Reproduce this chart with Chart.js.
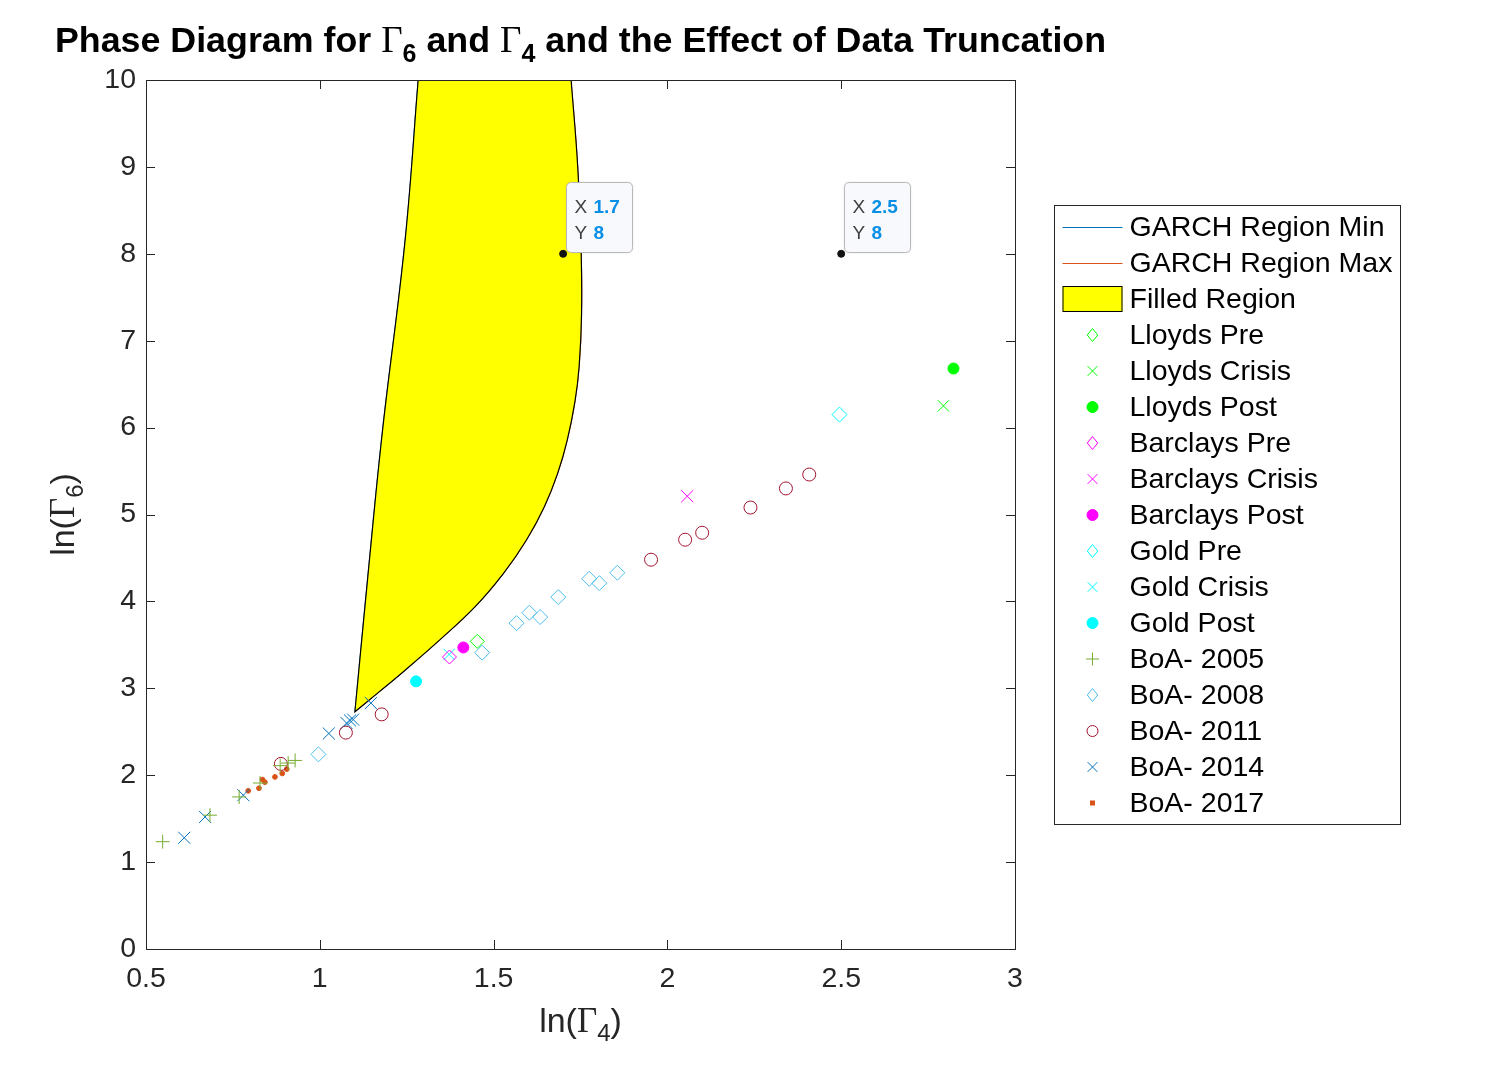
<!DOCTYPE html>
<html>
<head>
<meta charset="utf-8">
<script src="https://cdn.jsdelivr.net/npm/chart.js"></script>
<style>
    html, body { margin: 0; padding: 0; background: #fff; }
    canvas { display: block; }
</style>
</head>
<body>
<canvas id="phaseChart" width="1506" height="1066"></canvas>
<script>
    // 축 눈금
    const xTicks = [0.5, 1, 1.5, 2, 2.5, 3];
    const yTicks = [0, 1, 2, 3, 4, 5, 6, 7, 8, 9, 10];

    // GARCH 영역 경계 (ln Γ4, ln Γ6)
    const regionMinG4 = [1.101, 1.139, 1.180, 1.245, 1.283];
    const regionMinG6 = [2.73, 4.32, 5.95, 8.14, 10.0];
    const regionMaxG4 = [1.101, 1.168, 1.243, 1.346, 1.447, 1.528, 1.595, 1.646, 1.684, 1.712, 1.734, 1.746, 1.753, 1.752, 1.742, 1.723];
    const regionMaxG6 = [2.73, 2.95, 3.20, 3.56, 3.94, 4.32, 4.71, 5.09, 5.47, 5.86, 6.30, 6.70, 7.30, 8.0, 9.0, 10.0];

    // 관측값 [ln Γ4, ln Γ6]
    const lloydsPre = [[1.453, 3.54]];
    const lloydsCrisis = [[2.794, 6.25]];
    const lloydsPost = [[2.823, 6.68]];
    const barclaysPre = [[1.373, 3.36]];
    const barclaysCrisis = [[2.057, 5.21]];
    const barclaysPost = [[1.413, 3.47]];
    const goldPre = [[2.495, 6.15]];
    const goldCrisis = [[1.372, 3.39]];
    const goldPost = [[1.277, 3.08]];
    const boa2005 = [[0.548, 1.235], [0.684, 1.54], [0.768, 1.75], [0.828, 1.91], [0.886, 2.11], [0.909, 2.14], [0.929, 2.17]];
    const boa2008 = [[0.996, 2.24], [1.467, 3.41], [1.566, 3.75], [1.603, 3.87], [1.634, 3.82], [1.686, 4.05], [1.775, 4.26], [1.804, 4.21], [1.856, 4.33]];
    const boa2011 = [[0.888, 2.13], [1.075, 2.49], [1.178, 2.70], [1.953, 4.48], [2.051, 4.71], [2.100, 4.79], [2.239, 5.08], [2.341, 5.30], [2.408, 5.46]];
    const boa2014 = [[0.610, 1.28], [0.670, 1.52], [0.780, 1.77], [1.026, 2.48], [1.077, 2.60], [1.087, 2.63], [1.096, 2.64], [1.147, 2.83]];
    const boa2017 = [[0.794, 1.82], [0.825, 1.85], [0.835, 1.95], [0.842, 1.92], [0.871, 1.98], [0.892, 2.02], [0.905, 2.07]];

    // 데이터팁
    const datatips = [[1.7, 8], [2.5, 8]];

    const SANS = '"Liberation Sans", Arial, Helvetica, sans-serif';
    const SERIF = '"Liberation Serif", "Times New Roman", serif';
    const AXIS_COLOR = '#262626';

    const toPts = (xs, ys) => xs.map((x, i) => ({ x: x, y: ys[i] }));
    const pairs = arr => arr.map(p => ({ x: p[0], y: p[1] }));

    // 채움 영역: 위쪽 바깥(차트 밖)으로 경계를 연장해서 닫음
    function extendUp(xs, ys, yTo) {
        const n = xs.length;
        const k = (xs[n - 1] - xs[n - 2]) / (ys[n - 1] - ys[n - 2]);
        return { x: xs[n - 1] + k * (yTo - ys[n - 1]), y: yTo };
    }
    const yOut = yTicks[yTicks.length - 1] + 1;
    const regionPoly = [{ x: xTicks[0], y: yOut }, extendUp(regionMinG4, regionMinG6, yOut)]
        .concat(toPts(regionMinG4, regionMinG6).reverse())
        .concat(toPts(regionMaxG4, regionMaxG6))
        .concat([extendUp(regionMaxG4, regionMaxG6, yOut), { x: xTicks[xTicks.length - 1], y: yOut }]);

    function marker(label, data, style, color, radius, filled) {
        return {
            label: label, data: pairs(data), kind: 'marker',
            pointStyle: style, pointRadius: radius, pointHoverRadius: radius,
            pointBorderColor: color, pointBackgroundColor: filled ? color : 'rgba(0,0,0,0)',
            pointBorderWidth: 1, showLine: false, order: 1
        };
    }

    const datasets = [
        { label: 'GARCH Region Min', kind: 'line', data: toPts(regionMinG4, regionMinG6), showLine: true,
          borderColor: '#0072BD', borderWidth: 1, pointRadius: 0, tension: 0.4, fill: false, order: 3 },
        { label: 'GARCH Region Max', kind: 'line', data: toPts(regionMaxG4, regionMaxG6), showLine: true,
          borderColor: '#D95319', borderWidth: 1, pointRadius: 0, tension: 0.4, fill: false, order: 3 },
        { label: 'Filled Region', kind: 'patch', data: regionPoly, showLine: true, fill: 'shape',
          backgroundColor: '#FFFF00', borderColor: '#000000', borderWidth: 1.2, pointRadius: 0, tension: 0.4, order: 2 },
        marker('Lloyds Pre', lloydsPre, 'rectRot', '#00FF00', 7, false),
        marker('Lloyds Crisis', lloydsCrisis, 'crossRot', '#00FF00', 8, false),
        marker('Lloyds Post', lloydsPost, 'circle', '#00FF00', 5.5, true),
        marker('Barclays Pre', barclaysPre, 'rectRot', '#FF00FF', 7, false),
        marker('Barclays Crisis', barclaysCrisis, 'crossRot', '#FF00FF', 8.5, false),
        marker('Barclays Post', barclaysPost, 'circle', '#FF00FF', 5.5, true),
        marker('Gold Pre', goldPre, 'rectRot', '#00FFFF', 7.5, false),
        marker('Gold Crisis', goldCrisis, 'crossRot', '#00FFFF', 8, false),
        marker('Gold Post', goldPost, 'circle', '#00FFFF', 5.5, true),
        marker('BoA- 2005', boa2005, 'cross', '#77AC30', 7, false),
        marker('BoA- 2008', boa2008, 'rectRot', '#4DBEEE', 7.5, false),
        marker('BoA- 2011', boa2011, 'circle', '#A2142F', 6.5, false),
        marker('BoA- 2014', boa2014, 'crossRot', '#0072BD', 8.5, false),
        marker('BoA- 2017', boa2017, 'circle', '#D95319', 2.4, true),
        { label: '', kind: 'tip', data: pairs(datatips), showLine: false, pointStyle: 'circle',
          pointRadius: 3.5, pointBackgroundColor: '#111', pointBorderColor: '#111', pointBorderWidth: 1, order: 0 }
    ];

    // 굵은 글씨 + 아래첨자 텍스트
    function drawRich(ctx, parts, cx, baseY) {
        ctx.save();
        let total = 0;
        parts.forEach(p => { ctx.font = p.f; p.w = ctx.measureText(p.t).width; total += p.w; });
        let x = cx - total / 2;
        ctx.textBaseline = 'alphabetic';
        ctx.textAlign = 'left';
        parts.forEach(p => {
            ctx.font = p.f;
            ctx.fillStyle = p.c || '#000';
            ctx.fillText(p.t, x, baseY + (p.dy || 0));
            x += p.w;
        });
        ctx.restore();
    }

    const titleBold = `bold 35.8px ${SANS}`;
    const titleParts = [
        { t: 'Phase Diagram for ', f: titleBold },
        { t: 'Γ', f: `37px ${SERIF}` },
        { t: '6', f: `bold 25px ${SANS}`, dy: 10 },
        { t: ' and ', f: titleBold },
        { t: 'Γ', f: `37px ${SERIF}` },
        { t: '4', f: `bold 25px ${SANS}`, dy: 10 },
        { t: ' and the Effect of Data Truncation', f: titleBold }
    ];
    const xLabelParts = [
        { t: 'ln(', f: `34px ${SANS}`, c: AXIS_COLOR },
        { t: 'Γ', f: `35px ${SERIF}`, c: AXIS_COLOR },
        { t: '4', f: `24px ${SANS}`, dy: 9, c: AXIS_COLOR },
        { t: ')', f: `34px ${SANS}`, c: AXIS_COLOR }
    ];
    const yLabelParts = [
        { t: 'ln(', f: `34px ${SANS}`, c: AXIS_COLOR },
        { t: 'Γ', f: `35px ${SERIF}`, c: AXIS_COLOR },
        { t: '6', f: `24px ${SANS}`, dy: 9, c: AXIS_COLOR },
        { t: ')', f: `34px ${SANS}`, c: AXIS_COLOR }
    ];

    const labelPlugin = {
        id: 'richLabels',
        afterDraw(chart) {
            const { ctx, chartArea: a } = chart;
            const cx = (a.left + a.right) / 2;
            drawRich(ctx, titleParts, cx, 52);
            drawRich(ctx, xLabelParts, cx, a.bottom + 83);
            ctx.save();
            ctx.translate(a.left - 72, (a.top + a.bottom) / 2);
            ctx.rotate(-Math.PI / 2);
            drawRich(ctx, yLabelParts, 0, 0);
            ctx.restore();
        }
    };

    // MATLAB 식 안쪽 눈금 + 테두리
    const axesPlugin = {
        id: 'boxAxes',
        beforeDatasetsDraw(chart) {
            const { ctx, chartArea: a, scales } = chart;
            const len = 9;
            ctx.save();
            ctx.strokeStyle = AXIS_COLOR;
            ctx.lineWidth = 1;
            ctx.beginPath();
            scales.x.ticks.forEach(t => {
                const px = Math.round(scales.x.getPixelForValue(t.value)) + 0.5;
                ctx.moveTo(px, a.bottom); ctx.lineTo(px, a.bottom - len);
                ctx.moveTo(px, a.top); ctx.lineTo(px, a.top + len);
            });
            scales.y.ticks.forEach(t => {
                const py = Math.round(scales.y.getPixelForValue(t.value)) + 0.5;
                ctx.moveTo(a.left, py); ctx.lineTo(a.left + len, py);
                ctx.moveTo(a.right, py); ctx.lineTo(a.right - len, py);
            });
            ctx.stroke();
            ctx.restore();
        },
        afterDatasetsDraw(chart) {
            const { ctx, chartArea: a } = chart;
            ctx.save();
            ctx.strokeStyle = AXIS_COLOR;
            ctx.lineWidth = 1;
            ctx.strokeRect(Math.round(a.left) + 0.5, Math.round(a.top) + 0.5,
                Math.round(a.right - a.left), Math.round(a.bottom - a.top));
            ctx.restore();
        }
    };

    function roundRectPath(ctx, x, y, w, h, r) {
        ctx.beginPath();
        ctx.moveTo(x + r, y);
        ctx.lineTo(x + w - r, y); ctx.quadraticCurveTo(x + w, y, x + w, y + r);
        ctx.lineTo(x + w, y + h - r); ctx.quadraticCurveTo(x + w, y + h, x + w - r, y + h);
        ctx.lineTo(x + r, y + h); ctx.quadraticCurveTo(x, y + h, x, y + h - r);
        ctx.lineTo(x, y + r); ctx.quadraticCurveTo(x, y, x + r, y);
        ctx.closePath();
    }

    const datatipPlugin = {
        id: 'datatips',
        afterDatasetsDraw(chart) {
            const { ctx } = chart;
            const idx = chart.data.datasets.findIndex(d => d.kind === 'tip');
            const meta = chart.getDatasetMeta(idx);
            meta.data.forEach((el, i) => {
                const p = chart.data.datasets[idx].data[i];
                const bx = Math.round(el.x) + 3.5, by = Math.round(el.y) - 71.5;
                const bw = 66, bh = 70;
                ctx.save();
                ctx.shadowColor = 'rgba(0,0,0,0.12)';
                ctx.shadowBlur = 3;
                roundRectPath(ctx, bx, by, bw, bh, 5);
                ctx.fillStyle = '#F8F9FC';
                ctx.fill();
                ctx.shadowColor = 'transparent';
                ctx.strokeStyle = '#B8B8B8';
                ctx.lineWidth = 1;
                ctx.stroke();
                ctx.textBaseline = 'alphabetic';
                ctx.font = `19px ${SANS}`;
                ctx.fillStyle = '#404040';
                ctx.fillText('X', bx + 8, by + 30);
                ctx.fillText('Y', bx + 8, by + 56);
                ctx.font = `bold 19px ${SANS}`;
                ctx.fillStyle = '#0A8FE6';
                ctx.fillText(String(p.x), bx + 27, by + 30);
                ctx.fillText(String(p.y), bx + 27, by + 56);
                ctx.restore();
            });
        }
    };

    function drawSymbol(ctx, ds, cx, cy) {
        ctx.save();
        ctx.lineWidth = 1;
        if (ds.kind === 'line') {
            ctx.strokeStyle = ds.borderColor;
            ctx.lineWidth = 1.2;
            ctx.beginPath(); ctx.moveTo(cx - 30, cy + 0.5); ctx.lineTo(cx + 30, cy + 0.5); ctx.stroke();
        } else if (ds.kind === 'patch') {
            ctx.fillStyle = ds.backgroundColor;
            ctx.strokeStyle = '#000';
            ctx.fillRect(cx - 30, cy - 13, 60, 26);
            ctx.strokeRect(cx - 29.5, cy - 12.5, 59, 25);
        } else {
            const r = Math.min(ds.pointRadius, 6.5);
            ctx.strokeStyle = ds.pointBorderColor;
            ctx.fillStyle = ds.pointBackgroundColor;
            ctx.beginPath();
            if (ds.pointStyle === 'rectRot') {
                ctx.moveTo(cx, cy - r); ctx.lineTo(cx + r * 0.8, cy); ctx.lineTo(cx, cy + r); ctx.lineTo(cx - r * 0.8, cy); ctx.closePath();
                ctx.stroke();
            } else if (ds.pointStyle === 'crossRot') {
                const d = r * 0.75;
                ctx.moveTo(cx - d, cy - d); ctx.lineTo(cx + d, cy + d);
                ctx.moveTo(cx + d, cy - d); ctx.lineTo(cx - d, cy + d);
                ctx.stroke();
            } else if (ds.pointStyle === 'cross') {
                ctx.moveTo(cx - r, cy); ctx.lineTo(cx + r, cy);
                ctx.moveTo(cx, cy - r); ctx.lineTo(cx, cy + r);
                ctx.stroke();
            } else if (ds.pointRadius < 3) {
                ctx.fillRect(cx - 2.5, cy - 2.5, 5, 5);
            } else {
                ctx.arc(cx, cy, Math.min(r, 5.5), 0, Math.PI * 2);
                ctx.fill();
                ctx.stroke();
            }
        }
        ctx.restore();
    }

    // 테두리 있는 범례 (오른쪽)
    const legendPlugin = {
        id: 'boxLegend',
        afterDraw(chart) {
            const { ctx, chartArea: a } = chart;
            const items = chart.data.datasets.filter(d => d.label);
            const rowH = 36.06;
            const left = a.right + 39.5, w = 346;
            const h = rowH * items.length + 6;
            const top = Math.round((a.top + a.bottom) / 2 - h / 2) + 0.5;
            ctx.save();
            ctx.fillStyle = '#fff';
            ctx.fillRect(left, top, w, h);
            ctx.strokeStyle = AXIS_COLOR;
            ctx.lineWidth = 1;
            ctx.strokeRect(left, top, w, h);
            ctx.font = `28.5px ${SANS}`;
            ctx.textBaseline = 'middle';
            ctx.textAlign = 'left';
            items.forEach((ds, i) => {
                const cy = Math.round(top + 3 + rowH * (i + 0.5));
                drawSymbol(ctx, ds, left + 38, cy);
                ctx.fillStyle = '#000';
                ctx.fillText(ds.label, left + 75, cy + 1);
            });
            ctx.restore();
        }
    };

    new Chart(document.getElementById('phaseChart'), {
        type: 'scatter',
        data: { datasets: datasets },
        options: {
            responsive: false,
            animation: false,
            layout: { padding: { left: 0, top: 80, right: 491, bottom: 0 } },
            plugins: {
                legend: { display: false },
                tooltip: { enabled: false },
                title: { display: false }
            },
            scales: {
                x: {
                    type: 'linear', min: xTicks[0], max: xTicks[xTicks.length - 1],
                    afterFit: s => { s.height = 117; },
                    afterBuildTicks: s => { s.ticks = xTicks.map(v => ({ value: v })); },
                    ticks: { font: { family: SANS, size: 28.5 }, color: AXIS_COLOR, padding: 13,
                             maxRotation: 0, autoSkip: false, callback: v => String(v) },
                    grid: { display: false, drawTicks: false },
                    border: { display: false }
                },
                y: {
                    type: 'linear', min: yTicks[0], max: yTicks[yTicks.length - 1],
                    afterFit: s => { s.width = 146; },
                    afterBuildTicks: s => { s.ticks = yTicks.map(v => ({ value: v })); },
                    ticks: { font: { family: SANS, size: 28.5 }, color: AXIS_COLOR, padding: 10,
                             autoSkip: false, callback: v => String(v) },
                    grid: { display: false, drawTicks: false },
                    border: { display: false }
                }
            }
        },
        plugins: [axesPlugin, datatipPlugin, labelPlugin, legendPlugin]
    });
</script>
</body>
</html>
